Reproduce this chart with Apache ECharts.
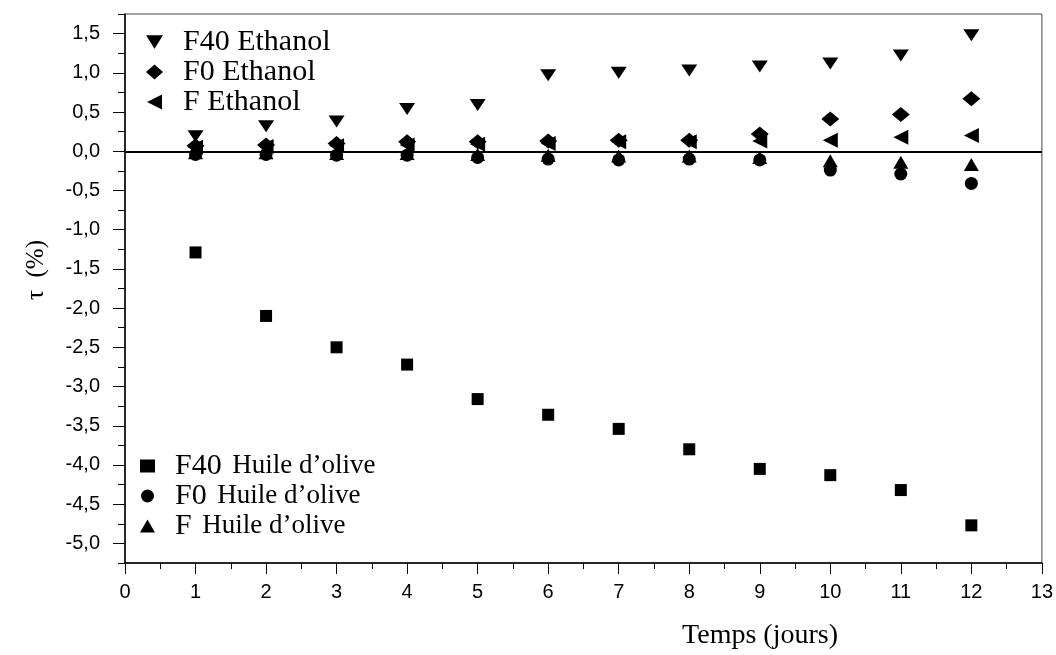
<!DOCTYPE html>
<html>
<head>
<meta charset="utf-8">
<script src="https://cdn.jsdelivr.net/npm/echarts@6/dist/echarts.min.js"></script>
<style>
  html, body { margin: 0; padding: 0; background: #fff; }
  #chart { width: 1056px; height: 655px; }
</style>
</head>
<body>
<div id="chart"></div>
<script>
// jours
const days = [1, 2, 3, 4, 5, 6, 7, 8, 9, 10, 11, 12]
// taux (%)
const f40Ethanol = [0.19, 0.32, 0.38, 0.54, 0.59, 0.97, 1.0, 1.03, 1.08, 1.12, 1.22, 1.48]
const f0Ethanol = [0.07, 0.08, 0.1, 0.12, 0.12, 0.13, 0.14, 0.14, 0.22, 0.41, 0.47, 0.67]
const fEthanol = [0.05, 0.06, 0.07, 0.08, 0.09, 0.1, 0.12, 0.12, 0.13, 0.14, 0.18, 0.2]
const f40Huile = [-1.29, -2.1, -2.5, -2.72, -3.16, -3.36, -3.54, -3.8, -4.05, -4.13, -4.32, -4.77]
const f0Huile = [-0.04, -0.04, -0.05, -0.05, -0.08, -0.1, -0.11, -0.1, -0.11, -0.24, -0.29, -0.41]
const fHuile = [-0.02, -0.02, -0.03, -0.03, -0.04, -0.05, -0.06, -0.06, -0.08, -0.12, -0.14, -0.17]
// graduations
const yMajorTicks = [-5, -4.5, -4, -3.5, -3, -2.5, -2, -1.5, -1, -0.5, 0, 0.5, 1, 1.5]

const serif = '"Liberation Serif", "Times New Roman", serif'
const sans = '"Liberation Sans", Arial, sans-serif'

const triDown = 'path://M0,0 L10,0 L5,8 Z'
const triLeft = 'path://M10,0 L10,10 L0,5 Z'

const pts = (arr) => days.map((d, i) => [d, arr[i]])

const mkSeries = (name, data, symbol, size) => ({
  name,
  type: 'scatter',
  data: pts(data),
  symbol,
  symbolSize: size,
  itemStyle: { color: '#000', opacity: 1 },
  z: 3
})

const chart = echarts.init(document.getElementById('chart'))

const series = [
  mkSeries('F40 Ethanol', f40Ethanol, triDown, [16, 12]),
  mkSeries('F0 Ethanol', f0Ethanol, 'diamond', [18, 15]),
  mkSeries('F Ethanol', fEthanol, triLeft, [15, 15]),
  mkSeries('F40 Huile d’olive', f40Huile, 'rect', [12, 12]),
  mkSeries('F0 Huile d’olive', f0Huile, 'circle', 13),
  mkSeries('F Huile d’olive', fHuile, 'triangle', [15, 13])
]
series[0].markLine = {
  silent: true,
  symbol: 'none',
  label: { show: false },
  lineStyle: { color: '#000', width: 2, type: 'solid', opacity: 1 },
  data: [{ yAxis: 0 }]
}

const option = {
  animation: false,
  backgroundColor: '#fff',
  grid: {
    left: 125,
    right: 10,
    top: 14,
    bottom: 92,
    show: true,
    borderColor: '#444',
    borderWidth: 1
  },
  legend: [
    {
      data: ['F40 Ethanol', 'F0 Ethanol', 'F Ethanol'],
      orient: 'vertical',
      left: 146,
      top: 27,
      padding: 0,
      itemGap: 0,
      itemWidth: 17,
      itemHeight: 15,
      textStyle: { fontFamily: serif, fontSize: 30, color: '#000', lineHeight: 29.5, padding: [0, 0, 0, 15] }
    },
    {
      data: ['F40 Huile d’olive', 'F0 Huile d’olive', 'F Huile d’olive'],
      orient: 'vertical',
      left: 140,
      top: 451,
      padding: 0,
      itemGap: 0,
      itemWidth: 15,
      itemHeight: 13,
      formatter: (name) => {
        const i = name.indexOf(' ')
        return '{a|' + name.slice(0, i + 1) + '}{b|' + name.slice(i + 1) + '}'
      },
      textStyle: {
        color: '#000',
        padding: [0, 0, 0, 15],
        rich: {
          a: { fontFamily: serif, fontSize: 30, color: '#000', lineHeight: 29.3 },
          b: { fontFamily: serif, fontSize: 27, color: '#000', lineHeight: 29.3, padding: [0, 0, 0, 3] }
        }
      }
    }
  ],
  xAxis: {
    type: 'value',
    min: 0,
    max: 13,
    interval: 1,
    axisLine: { onZero: false, lineStyle: { color: '#000', width: 1.5 } },
    axisTick: { length: 11, lineStyle: { color: '#000' } },
    minorTick: { show: true, splitNumber: 2, length: 6, lineStyle: { color: '#000' } },
    splitLine: { show: false },
    axisLabel: { fontFamily: sans, fontSize: 20, color: '#000', margin: 19 }
  },
  yAxis: [
    {
      type: 'value',
      min: -5.25,
      max: 1.75,
      interval: 0.25,
      axisLine: { show: true, onZero: false, lineStyle: { color: '#000', width: 1.5 } },
      axisTick: { show: true, length: 7, lineStyle: { color: '#000' } },
      axisLabel: { show: false },
      splitLine: { show: false }
    },
    {
      type: 'value',
      position: 'left',
      offset: 0,
      min: -5.25,
      max: 1.75,
      interval: 0.25,
      axisLine: { show: false, onZero: false },
      axisTick: { show: true, length: 12, customValues: yMajorTicks, lineStyle: { color: '#000' } },
      axisLabel: {
        customValues: yMajorTicks,
        fontFamily: sans,
        fontSize: 20,
        color: '#000',
        margin: 25,
        formatter: (v) => v.toFixed(1).replace('.', ',')
      },
      splitLine: { show: false }
    }
  ],
  graphic: [
    {
      type: 'text',
      x: 36,
      y: 270,
      rotation: Math.PI / 2,
      style: { text: 'τ  (%)', fontFamily: serif, fontSize: 25, fill: '#000', align: 'center', verticalAlign: 'middle' }
    },
    {
      type: 'text',
      x: 760,
      y: 636,
      style: { text: 'Temps (jours)', fontFamily: serif, fontSize: 28, fill: '#000', align: 'center', verticalAlign: 'middle' }
    }
  ],
  series
}

chart.setOption(option)
</script>
</body>
</html>
